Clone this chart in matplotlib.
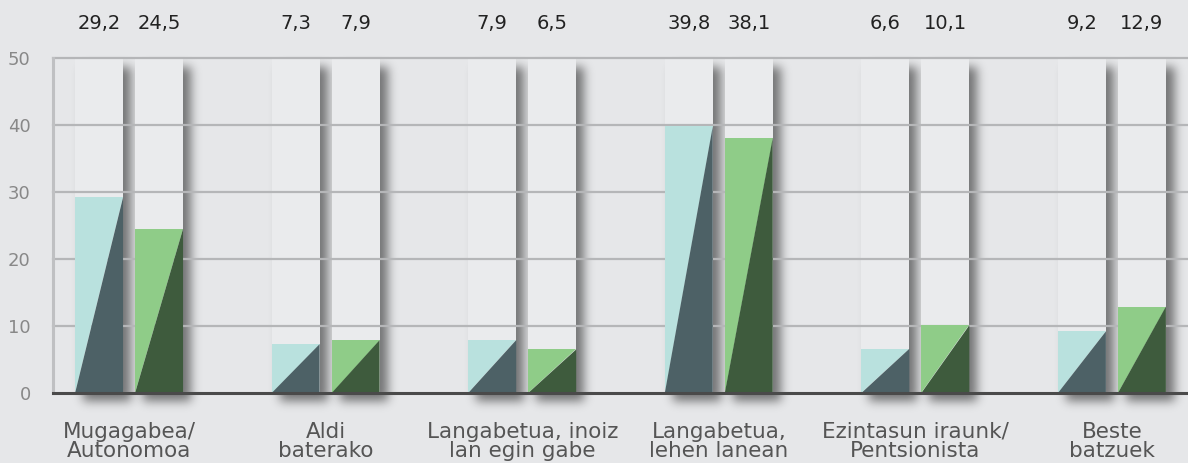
import math
import numpy as np
import matplotlib.pyplot as plt
from matplotlib.patches import Polygon, Rectangle

# data
categories = ['Mugagabea/\nAutonomoa', 'Aldi\nbaterako', 'Langabetua, inoiz\nlan egin gabe',
              'Langabetua,\nlehen lanean', 'Ezintasun iraunk/\nPentsionista', 'Beste\nbatzuek']
serie_a = [29.2, 7.3, 7.9, 39.8, 6.6, 9.2]
serie_b = [24.5, 7.9, 6.5, 38.1, 10.1, 12.9]
yticks = [0, 10, 20, 30, 40, 50]

bg = '#e6e7e9'
colors_a = ('#b9e1de', '#4d6166')
colors_b = ('#8fcc88', '#3e5b3d')

plt.rcParams['font.family'] = ['DejaVu Sans']

fig = plt.figure(figsize=(11.88, 4.63), dpi=100, facecolor=bg)
ax = fig.add_axes([53 / 1188, 70 / 463, 1 - 53 / 1188, 335 / 463])
ax.set_facecolor(bg)

w = 0.244
off = 0.1526
px = 1 / 196.6  # one pixel in x data units
py = 50 / 335   # one pixel in y data units

erf = np.vectorize(math.erf)


def blur_box(t, a, b, s):
    return 0.5 * (erf((t - a) / (s * 1.4142)) - erf((t - b) / (s * 1.4142)))


def shadow(x0, x1):
    # blurred copy of the column, shifted right and down
    dx, dy, s, amp = 8, 8, 5.0, 0.5
    wpx = (x1 - x0) / px
    hpx = 50 / py
    xs = np.arange(-4, wpx + 30) + 0.5
    ys = np.arange(-28, hpx + 6) + 0.5
    fx = blur_box(xs, dx, wpx + dx, s)
    fy = blur_box(ys, -dy, hpx - dy, s)
    alpha = amp * np.outer(fy[::-1], fx)
    img = np.zeros(alpha.shape + (4,))
    img[..., 3] = alpha
    ax.imshow(img, extent=(x0 - 4 * px, x0 + (wpx + 30) * px, -28 * py, (hpx + 6) * py),
              aspect='auto', interpolation='bilinear', zorder=0.5, clip_on=False)


def column(x0, x1):
    shadow(x0, x1)
    ax.add_patch(Rectangle((x0, 0), x1 - x0, 50, color='#eaebed', lw=0, zorder=1))


def bar(x0, x1, h, cols):
    ax.add_patch(Polygon([(x0, 0), (x0, h), (x1, h)], closed=True, color=cols[0], lw=0, zorder=3))
    ax.add_patch(Polygon([(x0, 0), (x1, h), (x1, 0)], closed=True, color=cols[1], lw=0, zorder=3))


for i in range(len(categories)):
    for xc, v, cols in [(i - off, serie_a[i], colors_a), (i + off, serie_b[i], colors_b)]:
        x0, x1 = xc - w / 2, xc + w / 2
        column(x0, x1)
        bar(x0, x1, v, cols)
        ax.text(xc, 55.1, f'{v:.1f}'.replace('.', ','), ha='center', va='center',
                fontsize=14, color='#222222', clip_on=False)
    ax.text(i, -4.3, categories[i], ha='center', va='top', fontsize=15.5,
            color='#555555', linespacing=0.98, clip_on=False)

for y in yticks[1:]:
    ax.axhline(y, color='#b5b6b8', lw=1.6, zorder=2, clip_on=False)
ax.axhline(0, color='#4a4a4a', lw=2.2, zorder=4, clip_on=False)

ax.set_xlim(-0.387, len(categories) - 1 + 0.387)
ax.set_ylim(0, 50)

for s in ['top', 'right', 'bottom']:
    ax.spines[s].set_visible(False)
ax.spines['left'].set_color('#bfc0c2')
ax.spines['left'].set_linewidth(2.2)
ax.spines['left'].set_zorder(2)

ax.set_xticks([])
ax.set_yticks(yticks)
ax.tick_params(axis='y', length=0, pad=16, labelsize=13, labelcolor='#888888')

fig.savefig('out.png', dpi=100, facecolor=bg)
